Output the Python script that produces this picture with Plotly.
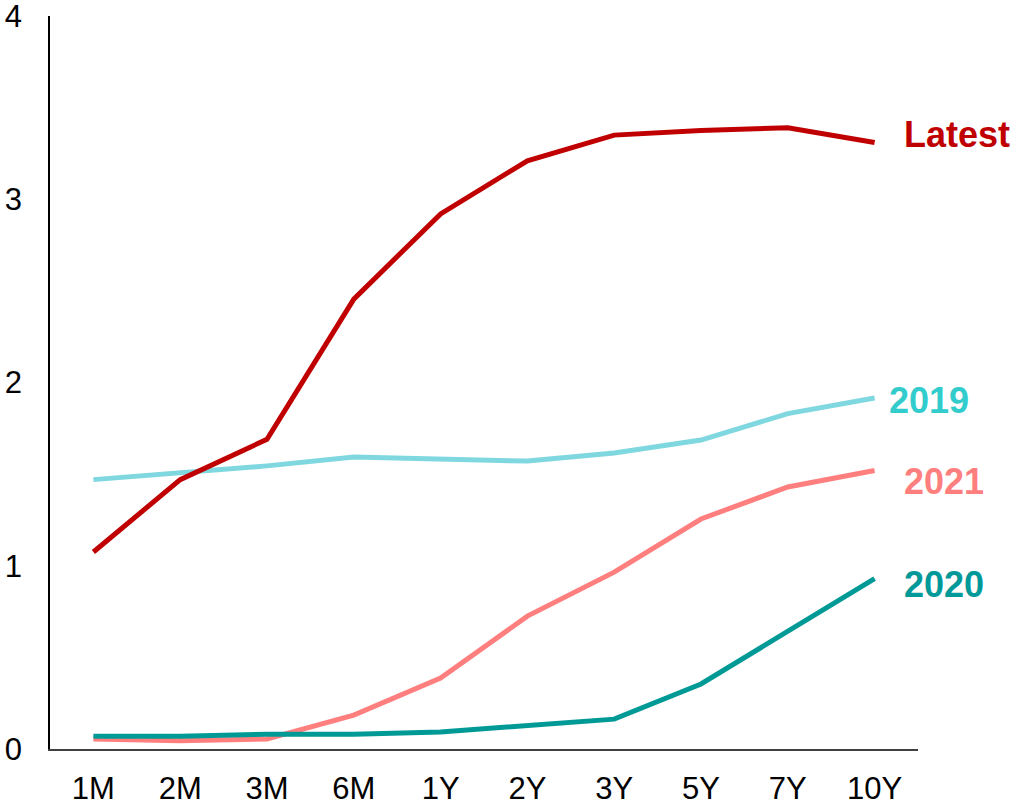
import plotly.graph_objects as go

tenors = ["1M", "2M", "3M", "6M", "1Y", "2Y", "3Y", "5Y", "7Y", "10Y"]

latest = [1.075, 1.47, 1.69, 2.455, 2.92, 3.21, 3.35, 3.375, 3.39, 3.31]
y2019 = [1.47, 1.505, 1.545, 1.593, 1.585, 1.571, 1.615, 1.686, 1.83, 1.915]
y2021 = [0.055, 0.045, 0.055, 0.185, 0.387, 0.725, 0.965, 1.255, 1.43, 1.52]
y2020 = [0.07, 0.07, 0.08, 0.08, 0.093, 0.125, 0.163, 0.355, 0.645, 0.93]

series = [
    ("2019", y2019, "#7FD7DF", "#33CCCC", 9.14, 1.9),
    ("2021", y2021, "#FF7F7F", "#FF7F7F", 9.32, 1.46),
    ("2020", y2020, "#009A96", "#009999", 9.32, 0.90),
    ("Latest", latest, "#C00000", "#C00000", 9.32, 3.355),
]

fig = go.Figure()
for name, vals, lc, tc, ax, ay in series:
    fig.add_trace(go.Scatter(
        x=tenors, y=vals, mode="lines", name=name,
        line=dict(color=lc, width=5),
        cliponaxis=False,
    ))
    fig.add_annotation(
        x=ax, y=ay, xref="x", yref="y", text=f"<b>{name}</b>",
        showarrow=False, xanchor="left", yanchor="middle",
        font=dict(family="Liberation Sans, Arial", size=36, color=tc),
    )

fig.update_layout(
    width=1017, height=805,
    margin=dict(l=50, r=99, t=16, b=56),
    paper_bgcolor="white", plot_bgcolor="white",
    showlegend=False,
    font=dict(family="Liberation Sans, Arial", size=31, color="black"),
    xaxis=dict(
        type="category", range=[-0.5, 9.5],
        showline=True, linecolor="#404040", linewidth=1.5,
        showgrid=False, zeroline=False, ticks="",
        ticklabelstandoff=11, automargin=False,
    ),
    yaxis=dict(
        range=[0, 4], tickvals=[0, 1, 2, 3, 4],
        showline=True, linecolor="black", linewidth=1.5,
        showgrid=False, zeroline=False, ticks="",
        ticklabelstandoff=20, automargin=False,
        ticklabeloverflow="allow",
    ),
)

fig.write_html("out.html")
